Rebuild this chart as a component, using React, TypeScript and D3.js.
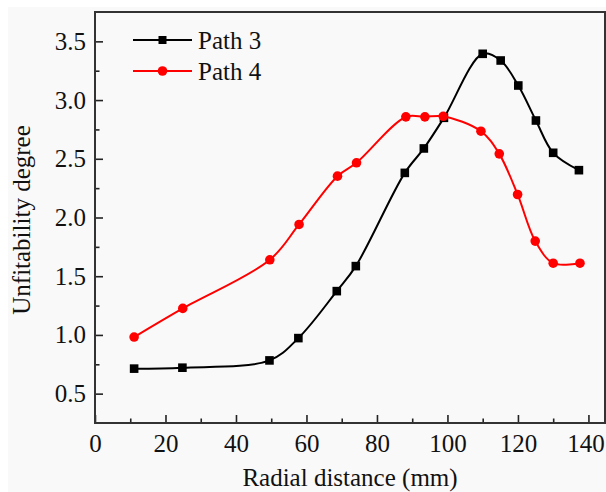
import * as d3 from 'd3'
import React, { useEffect, useRef } from 'react'

// radial distance (mm) and unfitability degree
const path3X = [11.1, 24.8, 49.5, 57.7, 68.6, 74.0, 87.9, 93.3, 99.0, 110.0, 115.1, 120.1, 125.1, 130.0, 137.3]
const path3Y = [0.713, 0.721, 0.783, 0.973, 1.373, 1.586, 2.38, 2.588, 2.849, 3.394, 3.337, 3.124, 2.826, 2.551, 2.403]
const path4X = [11.1, 24.9, 49.6, 57.9, 68.8, 74.2, 88.2, 93.6, 98.8, 109.5, 114.7, 119.9, 124.9, 130.0, 137.6]
const path4Y = [0.982, 1.226, 1.64, 1.941, 2.352, 2.466, 2.857, 2.857, 2.862, 2.735, 2.542, 2.196, 1.799, 1.611, 1.611]

const xTicks = [0, 20, 40, 60, 80, 100, 120, 140]
const xMinor = [10, 30, 50, 70, 90, 110, 130]
const yTicks = [0.5, 1.0, 1.5, 2.0, 2.5, 3.0, 3.5]
const yMinor = [0.75, 1.25, 1.75, 2.25, 2.75, 3.25]

const series = [
  { name: 'Path 3', xs: path3X, ys: path3Y, color: '#000000', shape: 'square' },
  { name: 'Path 4', xs: path4X, ys: path4Y, color: '#ff0000', shape: 'circle' },
]

const W = 606
const H = 492
const margin = { top: 12, right: 1, bottom: 69, left: 95 }
const width = W - margin.left - margin.right
const height = H - margin.top - margin.bottom
const font = 'Liberation Serif, Times New Roman, Times, DejaVu Serif, serif'

const App = () => {
  const xAxisRef = useRef<SVGGElement>(null)
  const xMinorRef = useRef<SVGGElement>(null)
  const yAxisRef = useRef<SVGGElement>(null)
  const yMinorRef = useRef<SVGGElement>(null)

  const x = d3.scaleLinear().domain([0, 144.7]).range([0, width])
  const y = d3.scaleLinear().domain([0.25, 3.75]).range([height, 0])

  const line = d3
    .line<[number, number]>()
    .x((d) => x(d[0]))
    .y((d) => y(d[1]))
    .curve(d3.curveCatmullRom.alpha(0.5))

  useEffect(() => {
    const style = (g: d3.Selection<SVGGElement, unknown, null, undefined>) => {
      g.attr('font-family', null).attr('font-size', null)
      g.select('.domain').remove()
      g.selectAll('line').attr('stroke', '#222').attr('stroke-width', 1.6)
      g.selectAll('text').attr('fill', '#111').style('font-family', font).style('font-size', '25px')
    }
    if (xAxisRef.current) {
      const g = d3
        .select(xAxisRef.current)
        .call(d3.axisBottom(x).tickValues(xTicks).tickSize(-8).tickPadding(11).tickFormat(d3.format('d')))
        .call(style)
      // last label sits against the right edge of the image
      g.selectAll<SVGTextElement, number>('text')
        .filter((d) => d === 140)
        .attr('dx', -3)
    }
    if (xMinorRef.current) {
      d3.select(xMinorRef.current)
        .call(d3.axisBottom(x).tickValues(xMinor).tickSize(-4.5).tickFormat(() => ''))
        .call(style)
    }
    if (yAxisRef.current) {
      d3.select(yAxisRef.current)
        .call(d3.axisLeft(y).tickValues(yTicks).tickSize(-8).tickPadding(9).tickFormat(d3.format('.1f')))
        .call(style)
    }
    if (yMinorRef.current) {
      d3.select(yMinorRef.current)
        .call(d3.axisLeft(y).tickValues(yMinor).tickSize(-4.5).tickFormat(() => ''))
        .call(style)
    }
  }, [])

  const textStyle = { fontFamily: font, fontSize: '25px' }

  return (
    <svg width={W} height={H} style={{ position: 'absolute', left: 0, top: 0 }}>
      <rect x={0} y={0} width={W} height={H} fill='#ffffff' />
      <rect x={8} y={7} width={W - 8} height={H - 7} fill='#f9f9f9' />
      <g transform={`translate(${margin.left}, ${margin.top})`}>
        {series.map((s) => {
          const pts: [number, number][] = s.xs.map((v, i) => [v, s.ys[i]])
          return (
            <g key={s.name}>
              <path d={line(pts) || ''} fill='none' stroke={s.color} strokeWidth={2} />
              {pts.map((p, i) =>
                s.shape === 'square' ? (
                  <rect key={i} x={x(p[0]) - 4.3} y={y(p[1]) - 4.3} width={8.6} height={8.6} fill={s.color} />
                ) : (
                  <circle key={i} cx={x(p[0])} cy={y(p[1])} r={4.8} fill={s.color} />
                )
              )}
            </g>
          )
        })}
        <g ref={xAxisRef} transform={`translate(0, ${height})`} />
        <g ref={xMinorRef} transform={`translate(0, ${height})`} />
        <g ref={yAxisRef} />
        <g ref={yMinorRef} />
        <rect x={0} y={0} width={width} height={height} fill='none' stroke='#333' strokeWidth={2} />

        {/* legend */}
        {series.map((s, i) => {
          const ly = 28 + i * 31
          return (
            <g key={`leg-${s.name}`} transform={`translate(38, ${ly})`}>
              <line x1={0} x2={59} y1={0} y2={0} stroke={s.color} strokeWidth={2} />
              {s.shape === 'square' ? (
                <rect x={29.5 - 4} y={-4} width={8} height={8} fill={s.color} />
              ) : (
                <circle cx={29.5} cy={0} r={4.8} fill={s.color} />
              )}
              <text x={65} y={9} style={textStyle} fill='#111'>
                {s.name}
              </text>
            </g>
          )
        })}
      </g>
      <text x={margin.left + width / 2} y={485.5} textAnchor='middle' style={textStyle} fill='#111'>
        Radial distance (mm)
      </text>
      <text
        transform={`translate(30, 220) rotate(-90)`}
        textAnchor='middle'
        style={textStyle}
        fill='#111'
      >
        Unfitability degree
      </text>
    </svg>
  )
}

export default App
